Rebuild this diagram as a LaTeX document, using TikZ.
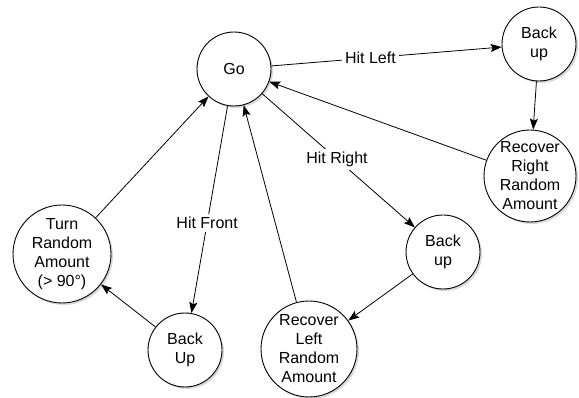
\documentclass[tikz,border=0pt]{standalone}
\usepackage{fontspec}
\setmainfont{Liberation Sans}
\usetikzlibrary{arrows.meta,shadows}
\begin{document}
\begin{tikzpicture}[x=1pt,y=-1pt,
  state/.style={circle,draw,line width=0.9pt,fill=white,inner sep=0pt,align=center,
    font=\fontsize{16}{19}\selectfont,
    drop shadow={shadow xshift=2pt,shadow yshift=-2pt,opacity=0.3}},
  conn/.style={line width=0.8pt,-{Stealth[length=11pt,width=8pt,inset=2pt]}},
  lbl/.style={fill=white,inner sep=3pt,font=\fontsize{16}{19}\selectfont}]
\useasboundingbox (0,0) rectangle (579,398);
\node[state,minimum size=74pt] (go) at (234,69) {Go};
\node[state,minimum size=74pt] (bu1) at (539,44) {Back\\up};
\node[state,minimum size=92pt] (rr) at (530,176) {Recover\\Right\\Random\\Amount};
\node[state,minimum size=74pt] (bu2) at (443,252) {Back\\up};
\node[state,minimum size=96pt] (rl) at (309,349) {Recover\\Left\\Random\\Amount};
\node[state,minimum size=74pt] (bu3) at (185,350) {Back\\Up};
\node[state,minimum size=98pt] (tr) at (62,254) {Turn\\Random\\Amount\\(> 90°)};
\draw[conn] (go) -- node[lbl,pos=0.43] {Hit Left} (bu1);
\draw[conn] (bu1) -- (rr);
\draw[conn] (rr) -- (go);
\draw[conn] (go) -- node[lbl,pos=0.49] {Hit Right} (bu2);
\draw[conn] (bu2) -- (rl);
\draw[conn] (rl) -- (go);
\draw[conn] (go) -- node[lbl,pos=0.565] {Hit Front} (bu3);
\draw[conn] (bu3) -- (tr);
\draw[conn] (tr) -- (go);
\end{tikzpicture}
\end{document}
